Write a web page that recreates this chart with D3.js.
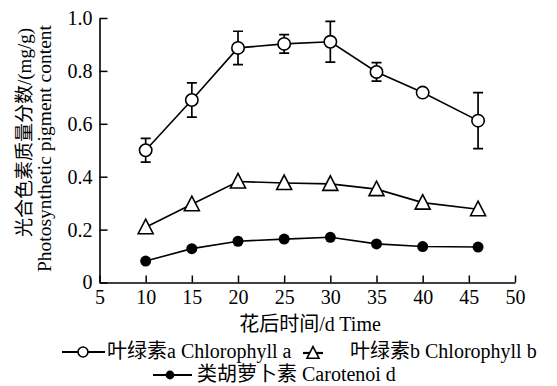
<!DOCTYPE html>
<html><head><meta charset="utf-8">
<script src="https://cdn.jsdelivr.net/npm/d3@7"></script>
<style>body{margin:0;background:#fff}svg{display:block}</style>
</head><body><svg id="c" width="557" height="386"></svg>
<script>
const days = [10, 15, 20, 25, 30, 35, 40, 46];
const chlA = [0.50, 0.69, 0.887, 0.902, 0.910, 0.796, 0.718, 0.612];
const chlAErr = [0.045, 0.065, 0.063, 0.035, 0.077, 0.035, 0, 0.106];
const chlB = [0.209, 0.296, 0.382, 0.376, 0.373, 0.353, 0.302, 0.277];
const carot = [0.081, 0.128, 0.156, 0.164, 0.171, 0.146, 0.136, 0.134];
const xTicks = [5, 10, 15, 20, 25, 30, 35, 40, 45, 50];
const yTicks = [0, 0.2, 0.4, 0.6, 0.8, 1.0];
const yTickLabels = ["0", "0.2", "0.4", "0.6", "0.8", "1.0"];
const legendLabels = ["叶绿素a Chlorophyll a", "叶绿素b Chlorophyll b", "类胡萝卜素 Carotenoi d"];

const FONT = "'Liberation Serif','Noto Sans CJK SC',serif";
const svg = d3.select("#c");
const x = d3.scaleLinear().domain([5, 50]).range([99.5, 515]);
const y = d3.scaleLinear().domain([0, 1]).range([282.5, 18]);

// axes
const xAxis = d3.axisBottom(x).tickValues(xTicks).tickSizeInner(-7).tickSizeOuter(0).tickPadding(7);
const gx = svg.append("g").attr("transform", "translate(0,282.5)").call(xAxis);
const yAxis = d3.axisLeft(y).tickValues(yTicks).tickFormat((d, i) => yTickLabels[i]).tickSizeInner(-8).tickSizeOuter(0).tickPadding(7);
const gy = svg.append("g").attr("transform", "translate(99.5,0)").call(yAxis);
[gx, gy].forEach(g => {
  g.attr("font-family", FONT);
  g.selectAll("path.domain").attr("stroke", "#000").attr("stroke-width", 1.6);
  g.selectAll(".tick line").attr("stroke", "#000").attr("stroke-width", 1.5);
  g.selectAll("text").attr("font-family", FONT).attr("font-size", 20).attr("fill", "#000");
});

// axis titles
svg.append("text").attr("x", 310).attr("y", 331).attr("text-anchor", "middle")
  .attr("font-family", FONT).attr("font-size", 20).text("花后时间/d Time");
svg.append("text").attr("transform", "translate(31,132.5) rotate(-90)").attr("text-anchor", "middle")
  .attr("font-family", FONT).attr("font-size", 19).text("光合色素质量分数/(mg/g)");
svg.append("text").attr("transform", "translate(51,148.5) rotate(-90)").attr("text-anchor", "middle")
  .attr("font-family", FONT).attr("font-size", 19.5).text("Photosynthetic pigment content");

const line = d3.line().x(d => x(d[0])).y(d => y(d[1]));
const sw = 1.6;

function marker(g, cx, cy, type, s) {
  s = s || 1;
  if (type === "circle") {
    g.append("circle").attr("cx", cx).attr("cy", cy).attr("r", 6.2 * s).attr("fill", "#fff").attr("stroke", "#000").attr("stroke-width", sw);
  } else if (type === "tri") {
    g.append("path").attr("d", `M${cx},${cy - 8 * s}L${cx + 7.5 * s},${cy + 6.5 * s}L${cx - 7.5 * s},${cy + 6.5 * s}Z`)
      .attr("fill", "#fff").attr("stroke", "#000").attr("stroke-width", sw);
  } else {
    g.append("circle").attr("cx", cx).attr("cy", cy).attr("r", 5.5 * s).attr("fill", "#000");
  }
}
function drawSeries(vals, type) {
  const pts = days.map((d, i) => [d, vals[i]]);
  svg.append("path").attr("d", line(pts)).attr("fill", "none").attr("stroke", "#000").attr("stroke-width", sw);
  pts.forEach(p => marker(svg, x(p[0]), y(p[1]), type));
}

// error bars
days.forEach((d, i) => {
  if (!chlAErr[i]) return;
  const xx = x(d), t = y(chlA[i] + chlAErr[i]), b = y(chlA[i] - chlAErr[i]);
  svg.append("path").attr("d", `M${xx},${t}V${b}M${xx - 5},${t}H${xx + 5}M${xx - 5},${b}H${xx + 5}`)
    .attr("stroke", "#000").attr("stroke-width", 1.7).attr("fill", "none");
});

drawSeries(carot, "dot");
drawSeries(chlB, "tri");
drawSeries(chlA, "circle");

// legend
const legend = [
  {type: "circle", x1: 62, x2: 105, mx: 83, tx: 107, ty: 358, ly: 352},
  {type: "tri", x1: 303, x2: 323, mx: 313, tx: 350, ty: 358, ly: 353},
  {type: "dot", x1: 153, x2: 192, mx: 170, tx: 197, ty: 381, ly: 375}
];
legend.forEach((l, i) => {
  svg.append("line").attr("x1", l.x1).attr("x2", l.x2).attr("y1", l.ly).attr("y2", l.ly).attr("stroke", "#000").attr("stroke-width", 2.2);
  marker(svg, l.mx, l.ly, l.type, 0.8);
  svg.append("text").attr("x", l.tx).attr("y", l.ty).attr("font-family", FONT).attr("font-size", 20).text(legendLabels[i]);
});
</script></body></html>
